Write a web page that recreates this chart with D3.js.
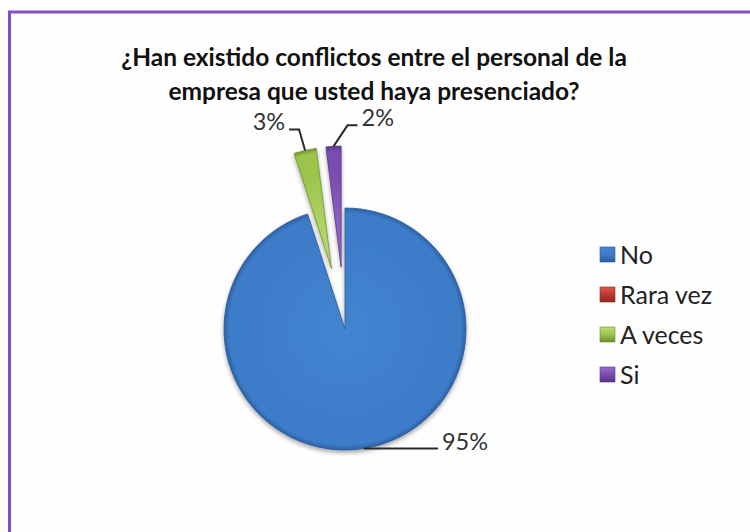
<!DOCTYPE html>
<html>
<head>
<meta charset="utf-8">
<script src="https://cdn.jsdelivr.net/npm/d3@7/dist/d3.min.js"></script>
<style>
  html, body { margin: 0; padding: 0; background: #ffffff; }
  svg { display: block; }
  text { font-family: Lato, "Open Sans", sans-serif; fill: #1a1a1a; }
</style>
</head>
<body>
<svg id="chart" width="750" height="532"></svg>
<script>
// Survey answers and their share of responses (%)
const categories = ["No", "Rara vez", "A veces", "Si"];
const values = [95, 0, 3, 2];
const titleLines = [
  "¿Han existido conflictos entre el personal de la",
  "empresa que usted haya presenciado?"
];

const W = 750, H = 532;
const svg = d3.select("#chart");

// Chart area frame
svg.append("rect")
  .attr("x", 9.5).attr("y", 12)
  .attr("width", W + 40).attr("height", H + 40)
  .attr("fill", "#fefefe")
  .attr("stroke", "#8250c4").attr("stroke-width", 3);

// Title
const title = svg.append("text")
  .attr("text-anchor", "middle")
  .style("font-weight", "bold")
  .style("font-size", "24.5px")
  .style("fill", "#111");
titleLines.forEach((line, i) => {
  title.append("tspan").attr("x", 374).attr("y", 66 + i * 34).text(line);
});

// Series colours (base, light, dark)
const palette = {
  "No":       ["#3d7cc9", "#4484d0", "#2a5b9a"],
  "Rara vez": ["#c0392f", "#d65a4f", "#8e2820"],
  "A veces":  ["#9cc44b", "#bcdc78", "#6c8e2c"],
  "Si":       ["#7a4bb0", "#9970c9", "#573383"]
};

const defs = svg.append("defs");
const shadow = defs.append("filter").attr("id", "pieShadow")
  .attr("x", "-20%").attr("y", "-20%").attr("width", "140%").attr("height", "140%");
shadow.append("feDropShadow")
  .attr("dx", 0).attr("dy", 2.5).attr("stdDeviation", 2.2)
  .attr("flood-color", "#000").attr("flood-opacity", 0.35);

categories.forEach((c, i) => {
  const [base, light, dark] = palette[c];
  const g = defs.append("radialGradient").attr("id", "grad" + i)
    .attr("gradientUnits", "userSpaceOnUse")
    .attr("cx", 0).attr("cy", 0).attr("r", 122);
  g.append("stop").attr("offset", "0%").attr("stop-color", light);
  g.append("stop").attr("offset", "80%").attr("stop-color", base);
  g.append("stop").attr("offset", "95%").attr("stop-color", base);
  g.append("stop").attr("offset", "100%").attr("stop-color", dark);

  const lg = defs.append("linearGradient").attr("id", "legGrad" + i)
    .attr("x1", 0).attr("y1", 0).attr("x2", 0).attr("y2", 1);
  lg.append("stop").attr("offset", "0%").attr("stop-color", light);
  lg.append("stop").attr("offset", "50%").attr("stop-color", base);
  lg.append("stop").attr("offset", "100%").attr("stop-color", dark);
});

// Pie layout
const cx = 345, cy = 329, radius = 121;
const explode = { "A veces": 62, "Si": 62 };

const data = categories.map((c, i) => ({ category: c, value: values[i], index: i }));
const pie = d3.pie().sort(null).value(d => d.value).startAngle(0).endAngle(2 * Math.PI);
const arcs = pie(data);
const arc = d3.arc().innerRadius(0).outerRadius(radius);

function offsetOf(a) {
  const mid = (a.startAngle + a.endAngle) / 2;
  const d = explode[a.data.category] || 0;
  return [Math.sin(mid) * d, -Math.cos(mid) * d];
}

const pieG = svg.append("g")
  .attr("transform", `translate(${cx},${cy})`)
  .attr("filter", "url(#pieShadow)");

pieG.selectAll("g.slice")
  .data(arcs.filter(a => a.value > 0))
  .join("g")
  .attr("class", "slice")
  .attr("transform", a => `translate(${offsetOf(a)})`)
  .append("path")
  .attr("d", arc)
  .attr("fill", a => `url(#grad${a.data.index})`)
  .attr("stroke", a => palette[a.data.category][2])
  .attr("stroke-width", 0.8)
  .attr("stroke-linejoin", "round");

// Value labels with leader lines
// each: elbow offset from the slice edge, horizontal run, text side
const leaders = {
  "No":      { elbow: [0, 0],    run: 74,  anchor: "start" },
  "A veces": { elbow: [-6, -21], run: -10, anchor: "end" },
  "Si":      { elbow: [14, -21], run: 10,  anchor: "start" }
};

const labelG = svg.append("g").attr("transform", `translate(${cx},${cy})`);
arcs.filter(a => a.value > 0).forEach(a => {
  const L = leaders[a.data.category];
  const mid = (a.startAngle + a.endAngle) / 2;
  const [ox, oy] = offsetOf(a);
  const p0 = [ox + Math.sin(mid) * radius, oy - Math.cos(mid) * radius];
  const p1 = [p0[0] + L.elbow[0], p0[1] + L.elbow[1]];
  const p2 = [p1[0] + L.run, p1[1]];
  labelG.append("path")
    .attr("d", d3.line()([p0, p1, p2]))
    .attr("fill", "none")
    .attr("stroke", "#2a2a2a")
    .attr("stroke-width", 2);
  labelG.append("text")
    .attr("x", p2[0] + (L.anchor === "start" ? 4 : -4))
    .attr("y", p2[1] + 1)
    .attr("text-anchor", L.anchor)
    .style("font-size", "23.5px")
    .style("fill", "#333")
    .text(a.data.value + "%");
});

// Legend
const legend = svg.append("g").attr("transform", "translate(600,254.5)");
const item = legend.selectAll("g")
  .data(categories)
  .join("g")
  .attr("transform", (d, i) => `translate(0,${i * 40})`);
item.append("rect")
  .attr("x", 0).attr("y", -7.5)
  .attr("width", 15).attr("height", 15)
  .attr("fill", (d, i) => `url(#legGrad${i})`)
  .attr("stroke", d => palette[d][2]).attr("stroke-width", 0.6);
item.append("text")
  .attr("x", 20).attr("y", 9)
  .style("font-size", "25px")
  .style("fill", "#222")
  .text(d => d);
</script>
</body>
</html>
